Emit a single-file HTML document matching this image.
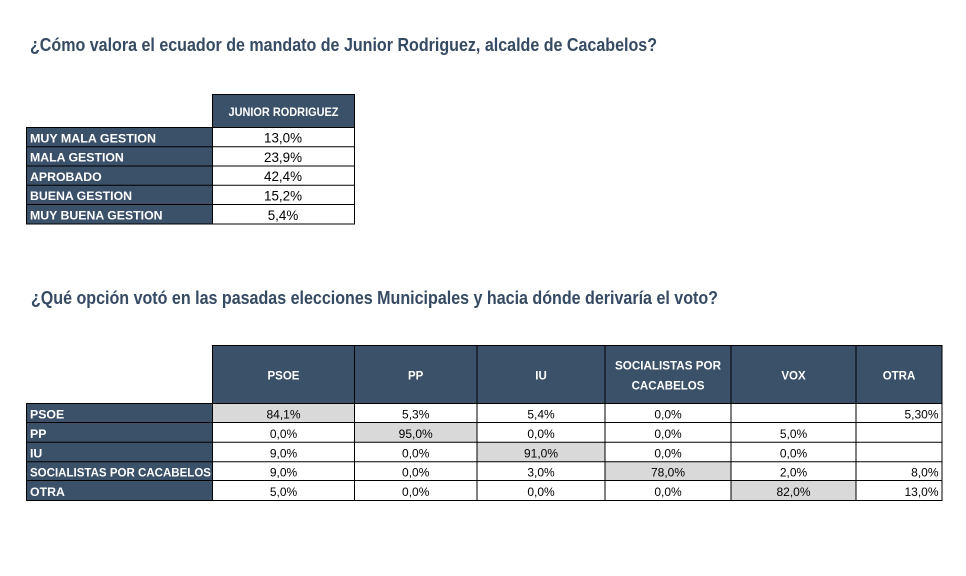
<!DOCTYPE html>
<html><head><meta charset="utf-8"><style>
html,body{margin:0;padding:0;background:#fff;}
svg{display:block;}
text{font-family:"Liberation Sans",Arial,sans-serif;}
.t{font-weight:bold;fill:#354a63;font-size:18px;}
.hd{font-weight:bold;fill:#fff;font-size:11.5px;}
.lb{font-weight:bold;fill:#fff;font-size:12.3px;}
.v{fill:#000;font-size:12px;}
.v1{fill:#000;font-size:13.4px;}
</style></head><body>
<svg width="966" height="576" viewBox="0 0 966 576" xmlns="http://www.w3.org/2000/svg">
<rect width="966" height="576" fill="#fff"/>
<text class="t" x="30" y="51" textLength="627" lengthAdjust="spacingAndGlyphs">¿Cómo valora el ecuador de mandato de Junior Rodriguez, alcalde de Cacabelos?</text>
<text class="t" x="31" y="304" textLength="687" lengthAdjust="spacingAndGlyphs">¿Qué opción votó en las pasadas elecciones Municipales y hacia dónde derivaría el voto?</text>

<!-- Table 1 -->
<rect x="212.5" y="94.5" width="142" height="33" fill="#3b5069" stroke="#000" stroke-width="1"/>
<text class="hd" x="283.5" y="116" text-anchor="middle" font-size="10" textLength="110" lengthAdjust="spacingAndGlyphs">JUNIOR RODRIGUEZ</text>
<rect x="26.5" y="127.5" width="186" height="96.5" fill="#3b5069"/>
<rect x="212.5" y="127.5" width="142" height="96.5" fill="#fff"/>
<g stroke="#000" stroke-width="1" fill="none">
<rect x="26.5" y="127.5" width="328" height="96.5"/>
<line x1="212.5" y1="127.5" x2="212.5" y2="224"/>
<line x1="26.5" y1="146.7" x2="354.5" y2="146.7"/>
<line x1="26.5" y1="166" x2="354.5" y2="166"/>
<line x1="26.5" y1="185.3" x2="354.5" y2="185.3"/>
<line x1="26.5" y1="204.5" x2="354.5" y2="204.5"/>
</g>
<text class="lb" x="30" y="142.3" textLength="126" lengthAdjust="spacingAndGlyphs">MUY MALA GESTION</text>
<text class="lb" x="30" y="161.6">MALA GESTION</text>
<text class="lb" x="30" y="180.9">APROBADO</text>
<text class="lb" x="30" y="200.1">BUENA GESTION</text>
<text class="lb" x="30" y="219.6">MUY BUENA GESTION</text>
<text class="v1" x="283" y="142.5" text-anchor="middle">13,0%</text>
<text class="v1" x="283" y="161.8" text-anchor="middle">23,9%</text>
<text class="v1" x="283" y="181.1" text-anchor="middle">42,4%</text>
<text class="v1" x="283" y="200.3" text-anchor="middle">15,2%</text>
<text class="v1" x="283" y="219.8" text-anchor="middle">5,4%</text>

<!-- Table 2 -->
<rect x="212.5" y="345.5" width="729.5" height="58" fill="#3b5069"/>
<rect x="26.5" y="403.5" width="186" height="97" fill="#3b5069"/>
<rect x="212.5" y="403.5" width="729.5" height="97" fill="#fff"/>
<!-- gray cells -->
<rect x="212.5" y="403.5" width="142" height="19" fill="#d9d9d9"/>
<rect x="354.5" y="422.5" width="122.5" height="20" fill="#d9d9d9"/>
<rect x="477" y="442.3" width="128" height="19.4" fill="#d9d9d9"/>
<rect x="605" y="461.7" width="126" height="18.6" fill="#d9d9d9"/>
<rect x="731" y="480.3" width="125" height="20" fill="#d9d9d9"/>
<g stroke="#000" stroke-width="1" fill="none">
<rect x="212.5" y="345.5" width="729.5" height="155"/>
<rect x="26.5" y="403.5" width="915.5" height="97"/>
<line x1="354.5" y1="345.5" x2="354.5" y2="500.5"/>
<line x1="477" y1="345.5" x2="477" y2="500.5"/>
<line x1="605" y1="345.5" x2="605" y2="500.5"/>
<line x1="731" y1="345.5" x2="731" y2="500.5"/>
<line x1="856" y1="345.5" x2="856" y2="500.5"/>
<line x1="26.5" y1="422.5" x2="942" y2="422.5"/>
<line x1="26.5" y1="442.3" x2="942" y2="442.3"/>
<line x1="26.5" y1="461.7" x2="942" y2="461.7"/>
<line x1="26.5" y1="480.5" x2="942" y2="480.5"/>
</g>
<text class="hd" x="283.5" y="379.3" text-anchor="middle">PSOE</text>
<text class="hd" x="415.7" y="379.3" text-anchor="middle">PP</text>
<text class="hd" x="541" y="379.3" text-anchor="middle">IU</text>
<text class="hd" x="668" y="369.3" text-anchor="middle" textLength="106" lengthAdjust="spacingAndGlyphs">SOCIALISTAS POR</text>
<text class="hd" x="668" y="389.3" text-anchor="middle">CACABELOS</text>
<text class="hd" x="793.5" y="379.3" text-anchor="middle">VOX</text>
<text class="hd" x="899" y="379.3" text-anchor="middle">OTRA</text>

<text class="lb" x="30" y="418.3" font-size="12">PSOE</text>
<text class="lb" x="30" y="438" font-size="12">PP</text>
<text class="lb" x="30" y="457.4" font-size="12">IU</text>
<text class="lb" x="30" y="476.3" font-size="12" textLength="181" lengthAdjust="spacingAndGlyphs">SOCIALISTAS POR CACABELOS</text>
<text class="lb" x="30" y="496" font-size="12">OTRA</text>

<g class="vals">
<text class="v" x="283.5" y="418.3" text-anchor="middle">84,1%</text>
<text class="v" x="415.7" y="418.3" text-anchor="middle">5,3%</text>
<text class="v" x="541" y="418.3" text-anchor="middle">5,4%</text>
<text class="v" x="668" y="418.3" text-anchor="middle">0,0%</text>
<text class="v" x="938.5" y="418.3" text-anchor="end">5,30%</text>

<text class="v" x="283.5" y="438" text-anchor="middle">0,0%</text>
<text class="v" x="415.7" y="438" text-anchor="middle">95,0%</text>
<text class="v" x="541" y="438" text-anchor="middle">0,0%</text>
<text class="v" x="668" y="438" text-anchor="middle">0,0%</text>
<text class="v" x="793.5" y="438" text-anchor="middle">5,0%</text>

<text class="v" x="283.5" y="457.4" text-anchor="middle">9,0%</text>
<text class="v" x="415.7" y="457.4" text-anchor="middle">0,0%</text>
<text class="v" x="541" y="457.4" text-anchor="middle">91,0%</text>
<text class="v" x="668" y="457.4" text-anchor="middle">0,0%</text>
<text class="v" x="793.5" y="457.4" text-anchor="middle">0,0%</text>

<text class="v" x="283.5" y="476.3" text-anchor="middle">9,0%</text>
<text class="v" x="415.7" y="476.3" text-anchor="middle">0,0%</text>
<text class="v" x="541" y="476.3" text-anchor="middle">3,0%</text>
<text class="v" x="668" y="476.3" text-anchor="middle">78,0%</text>
<text class="v" x="793.5" y="476.3" text-anchor="middle">2,0%</text>
<text class="v" x="938.5" y="476.3" text-anchor="end">8,0%</text>

<text class="v" x="283.5" y="496" text-anchor="middle">5,0%</text>
<text class="v" x="415.7" y="496" text-anchor="middle">0,0%</text>
<text class="v" x="541" y="496" text-anchor="middle">0,0%</text>
<text class="v" x="668" y="496" text-anchor="middle">0,0%</text>
<text class="v" x="793.5" y="496" text-anchor="middle">82,0%</text>
<text class="v" x="938.5" y="496" text-anchor="end">13,0%</text>
</g>
</svg>
</body></html>
